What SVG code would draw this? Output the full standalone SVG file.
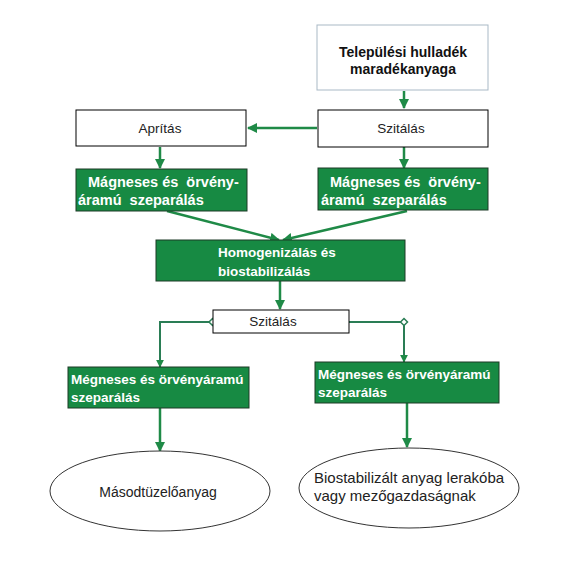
<svg xmlns="http://www.w3.org/2000/svg" width="567" height="567" viewBox="0 0 567 567">
<defs>
<marker id="arr" viewBox="0 0 10 10" refX="9" refY="5" markerWidth="4" markerHeight="4" orient="auto" markerUnits="strokeWidth">
<path d="M0,0 L10,5 L0,10 z" fill="#1f8a47"/>
</marker>
</defs>
<style>
.wb{fill:#fff;stroke:#000;stroke-width:1}
.gb{fill:#178a43;stroke:#1d3b26;stroke-width:1}
.el{fill:#fff;stroke:#333;stroke-width:1}
.t{font-family:"Liberation Sans",Arial,sans-serif;font-size:13.5px;fill:#222}
.tw{font-family:"Liberation Sans",Arial,sans-serif;font-size:13.5px;font-weight:bold;fill:#fff;white-space:pre}
.tw2{font-family:"Liberation Sans",Arial,sans-serif;font-size:14.5px;font-weight:bold;fill:#fff;white-space:pre}
.tb{font-family:"Liberation Sans",Arial,sans-serif;font-size:14px;font-weight:bold;fill:#111}
.c{fill:none;stroke:#1f8a47;stroke-width:2.5}
.c2{fill:none;stroke:#2a7d55;stroke-width:2}
.dm{fill:#fff;stroke:#2a7d55;stroke-width:1.5}
</style>
<rect width="567" height="567" fill="#fff"/>
<g id="connectors">
<line class="c" x1="404" y1="91" x2="404" y2="108" marker-end="url(#arr)"/>
<line class="c" x1="317" y1="128" x2="248" y2="128" marker-end="url(#arr)"/>
<line class="c" x1="160" y1="147" x2="160" y2="168" marker-end="url(#arr)"/>
<line class="c" x1="404" y1="147" x2="404" y2="168" marker-end="url(#arr)"/>
<line class="c" x1="167" y1="211" x2="279" y2="240" marker-end="url(#arr)"/>
<line class="c" x1="407" y1="211" x2="283" y2="240" marker-end="url(#arr)"/>
<line class="c" x1="280" y1="281" x2="280" y2="309" marker-end="url(#arr)"/>
<path class="c2" d="M210,322 L160,322 L160,367" marker-end="url(#arr)"/>
<path class="c2" d="M349,322 L404,322 L404,362" marker-end="url(#arr)"/>
<path class="dm" d="M209,322 L212.5,318.5 L216,322 L212.5,325.5 z"/>
<path class="dm" d="M400.5,322 L404,318.5 L407.5,322 L404,325.5 z"/>
<line class="c" x1="160" y1="408" x2="160" y2="451" marker-end="url(#arr)"/>
<line class="c" x1="407" y1="403" x2="407" y2="447" marker-end="url(#arr)"/>
</g>
<g id="n1">
<rect x="317" y="25" width="171" height="65" fill="#fff" stroke="#a9b9c6" stroke-width="1"/>
<text class="tb" x="403" y="57" text-anchor="middle">Települési hulladék</text>
<text class="tb" x="403" y="74" text-anchor="middle">maradékanyaga</text>
</g>
<g id="n2">
<rect class="wb" x="318" y="110" width="170" height="37"/>
<text class="t" x="401" y="133" text-anchor="middle">Szitálás</text>
</g>
<g id="n3">
<rect class="wb" x="76" y="110" width="170" height="36"/>
<text class="t" x="160" y="133" text-anchor="middle">Aprítás</text>
</g>
<g id="n4">
<rect class="gb" x="76" y="169" width="171" height="42"/>
<text class="tw2" x="88" y="187" xml:space="preserve">Mágneses és  örvény-</text>
<text class="tw2" x="78" y="205" xml:space="preserve">áramú  szeparálás</text>
</g>
<g id="n5">
<rect class="gb" x="318" y="168" width="170" height="42"/>
<text class="tw2" x="330" y="187" xml:space="preserve">Mágneses és  örvény-</text>
<text class="tw2" x="321" y="205" xml:space="preserve">áramú  szeparálás</text>
</g>
<g id="n6">
<rect class="gb" x="156" y="240" width="249" height="41"/>
<text class="tw" x="218" y="257">Homogenizálás és</text>
<text class="tw" x="218" y="276">biostabilizálás</text>
</g>
<g id="n7">
<rect class="wb" x="213" y="310" width="136" height="23"/>
<text class="t" x="273" y="326" text-anchor="middle">Szitálás</text>
</g>
<g id="n8">
<rect class="gb" x="68" y="367" width="181" height="41"/>
<text class="tw" x="71" y="384">Mégneses és örvényáramú</text>
<text class="tw" x="71" y="402">szeparálás</text>
</g>
<g id="n9">
<rect class="gb" x="315" y="362" width="184" height="41"/>
<text class="tw" x="318" y="379">Mégneses és örvényáramú</text>
<text class="tw" x="318" y="397">szeparálás</text>
</g>
<g id="n10">
<ellipse class="el" cx="160" cy="491" rx="110" ry="40"/>
<text class="t" x="158" y="497" text-anchor="middle" style="font-size:14px">Másodtüzelőanyag</text>
</g>
<g id="n11">
<ellipse class="el" cx="409" cy="488" rx="110" ry="40"/>
<text class="t" x="314" y="483" style="font-size:15px">Biostabilizált anyag lerakóba</text>
<text class="t" x="314" y="501" style="font-size:15px">vagy mezőgazdaságnak</text>
</g>
</svg>
